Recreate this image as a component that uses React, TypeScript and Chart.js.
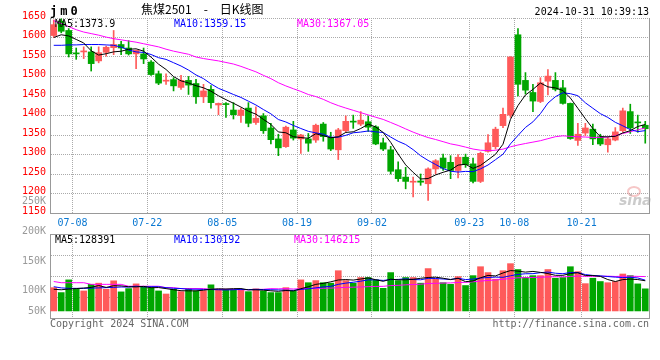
import React, { useEffect, useRef } from "react";
import { Chart, registerables } from "chart.js";
Chart.register(...registerables);

// ---------- data ----------
const dates = [
  "07-03","07-04","07-05","07-08","07-09","07-10","07-11","07-12","07-15","07-16",
  "07-17","07-18","07-19","07-22","07-23","07-24","07-25","07-26","07-29","07-30",
  "07-31","08-01","08-02","08-05","08-06","08-07","08-08","08-09","08-12","08-13",
  "08-14","08-15","08-16","08-19","08-20","08-21","08-22","08-23","08-26","08-27",
  "08-28","08-29","08-30","09-02","09-03","09-04","09-05","09-06","09-09","09-10",
  "09-11","09-12","09-13","09-18","09-19","09-20","09-23","09-24","09-25","09-26",
  "09-27","09-30","10-08","10-09","10-10","10-11","10-14","10-15","10-16","10-17",
  "10-18","10-21","10-22","10-23","10-24","10-25","10-28","10-29","10-30","10-31",
];
const xTickLabels = ["07-08", "07-22", "08-05", "08-19", "09-02", "09-23", "10-08", "10-21"];

const openP = [
  1605,1642,1618,1560,1563,1563,1540,1562,1574,1582,
  1573,1558,1558,1537,1507,1488,1492,1472,1490,1482,
  1448,1467,1427,1430,1414,1400,1419,1382,1399,1368,
  1340,1320,1363,1340,1340,1337,1378,1344,1312,1361,
  1385,1378,1384,1371,1330,1312,1261,1242,1229,1232,
  1225,1263,1291,1280,1259,1293,1276,1231,1308,1320,
  1374,1401,1607,1490,1459,1436,1488,1490,1471,1431,
  1336,1355,1365,1346,1325,1337,1361,1410,1383,1375,
];
const highP = [
  1645,1648,1623,1573,1576,1576,1576,1578,1618,1590,
  1592,1568,1573,1541,1514,1507,1497,1503,1500,1493,
  1480,1477,1432,1433,1433,1419,1433,1422,1405,1380,
  1352,1373,1385,1352,1354,1378,1382,1357,1367,1399,
  1401,1410,1399,1374,1342,1321,1281,1267,1242,1250,
  1266,1287,1301,1297,1300,1301,1291,1306,1351,1370,
  1419,1551,1623,1510,1480,1497,1518,1510,1490,1432,
  1380,1380,1378,1352,1344,1369,1419,1429,1401,1385,
];
const lowP = [
  1600,1612,1550,1544,1546,1514,1535,1552,1556,1556,
  1555,1520,1533,1503,1479,1480,1463,1467,1454,1431,
  1433,1419,1402,1395,1391,1382,1371,1377,1354,1327,
  1297,1318,1337,1303,1308,1331,1334,1310,1287,1357,
  1367,1374,1359,1325,1310,1250,1231,1212,1191,1221,
  1182,1250,1259,1238,1240,1267,1227,1228,1306,1314,
  1369,1395,1450,1455,1410,1433,1453,1463,1429,1339,
  1323,1348,1325,1323,1306,1335,1357,1354,1357,1329,
];
const closeP = [
  1633,1616,1558,1558,1565,1533,1561,1575,1582,1573,
  1558,1567,1545,1505,1483,1490,1476,1490,1478,1448,
  1463,1433,1431,1428,1402,1414,1380,1393,1361,1338,
  1317,1370,1342,1350,1329,1375,1346,1314,1363,1385,
  1383,1388,1370,1327,1314,1257,1238,1231,1231,1229,
  1263,1284,1265,1259,1293,1274,1231,1303,1330,1365,
  1403,1550,1480,1465,1437,1484,1501,1467,1431,1341,
  1352,1368,1340,1327,1340,1358,1412,1368,1381,1366,
];
const volume = [
  99000,78000,132000,92000,85000,113000,118000,92000,128000,81000,
  95000,115000,103000,99000,85000,72000,92000,82000,96000,85000,
  86000,111000,92000,92000,92000,89000,82000,94000,85000,78000,
  78000,99000,85000,132000,120000,129000,120000,118000,171000,129000,
  118000,142000,142000,132000,96000,163000,129000,142000,142000,118000,
  180000,135000,120000,113000,146000,108000,150000,188000,163000,135000,
  171000,201000,176000,142000,150000,150000,176000,139000,142000,188000,
  167000,116000,139000,125000,120000,125000,157000,150000,115000,94000,
];

// moving-average values at the left edge (their windows start before the chart)
const ma5Lead = [1600, 1607, 1604, 1595];
const ma10Lead = [1580, 1580, 1581, 1581, 1582, 1582, 1582, 1581, 1580];
const ma30Lead = [
  1643,1636,1628,1620,1614,1610,1606,1601,1597,1594,
  1591,1588,1584,1580,1576,1570,1565,1561,1557,1550,
  1546,1543,1540,1536,1532,1526,1519,1512,1503,
];
const volMa5Lead = [92000, 90000, 93000, 95000];
const volMa10Lead = [103000, 98000, 96000, 96000, 96000, 97000, 98000, 99000, 100000];
const volMa30Lead = [
  125000,120000,120000,120000,120000,113000,113000,113000,113000,113000,
  105000,105000,105000,105000,105000,99000,99000,95000,95000,95000,
  95000,92000,92000,92000,92000,90000,90000,91000,92000,
];

const volTickLabels = ["250K", "200K", "150K", "100K", "50K"];

// ---------- styles ----------
const RED = "#ff5a5a";
const GREEN = "#00a600";
const GRID = "#aaaaaa";
const FRAME = "#999999";
const MONO = '"DejaVu Sans Mono", monospace';

function movingAverage(values: number[], n: number, lead: number[]): number[] {
  return values.map((_, i) => {
    if (i < n - 1) return lead[i];
    let s = 0;
    for (let k = i - n + 1; k <= i; k++) s += values[k];
    return s / n;
  });
}

const labelIdx = new Set(xTickLabels.map((d) => dates.indexOf(d)));
const candleColors = closeP.map((c, i) => (c >= openP[i] ? RED : GREEN));

function xScale(showLabels: boolean, height: number) {
  return {
    type: "category" as const,
    offset: true,
    grid: {
      offset: true,
      drawTicks: false,
      lineWidth: 1,
      color: (ctx: any) =>
        ctx.type === "tick" ? (labelIdx.has(ctx.index) ? GRID : "rgba(0,0,0,0)") : FRAME,
    },
    border: {
      color: FRAME,
      dash: (ctx: any) => (ctx.type === "tick" ? [1, 1] : []),
    },
    ticks: {
      display: showLabels,
      autoSkip: false,
      maxRotation: 0,
      padding: 4,
      labelOffset: -3.75,
      color: "#0a78d2",
      font: { family: MONO, size: 10 },
      callback: (_v: any, i: number) => (labelIdx.has(i) ? dates[i] : ""),
    },
    afterFit: (s: any) => {
      s.height = height;
    },
  };
}

const lineDs = (label: string, data: number[], color: string, order: number) => ({
  type: "line" as const,
  label,
  data,
  borderColor: color,
  borderWidth: 1,
  pointRadius: 0,
  tension: 0,
  fill: false,
  order,
});

export default function App() {
  const mainRef = useRef<HTMLCanvasElement>(null);
  const volRef = useRef<HTMLCanvasElement>(null);

  useEffect(() => {
    const ma5 = movingAverage(closeP, 5, ma5Lead);
    const ma10 = movingAverage(closeP, 10, ma10Lead);
    const ma30 = movingAverage(closeP, 30, ma30Lead);
    const vma5 = movingAverage(volume, 5, volMa5Lead);
    const vma10 = movingAverage(volume, 10, volMa10Lead);
    const vma30 = movingAverage(volume, 30, volMa30Lead);

    const main = new Chart(mainRef.current!, {
      type: "bar",
      data: {
        labels: dates,
        datasets: [
          lineDs("MA5", ma5, "#000000", 1),
          lineDs("MA10", ma10, "#0000ff", 2),
          lineDs("MA30", ma30, "#ff00ff", 3),
          {
            type: "bar",
            label: "body",
            data: openP.map((o, i) => [o, closeP[i]]),
            backgroundColor: candleColors,
            barThickness: 6,
            minBarLength: 1,
            grouped: false,
            order: 4,
          } as any,
          {
            type: "bar",
            label: "wick",
            data: lowP.map((l, i) => [l, highP[i]]),
            backgroundColor: candleColors,
            barThickness: 1,
            grouped: false,
            order: 5,
          } as any,
        ],
      },
      options: {
        responsive: false,
        devicePixelRatio: 1,
        animation: false,
        events: [],
        layout: { padding: { top: 18, right: 11, left: 0, bottom: 0 } },
        plugins: { legend: { display: false }, tooltip: { enabled: false } },
        scales: {
          x: xScale(true, 19) as any,
          y: {
            min: 1150,
            max: 1650,
            grid: { color: GRID, drawTicks: false, lineWidth: 1 },
            border: { color: FRAME, dash: [1, 1] },
            ticks: {
              stepSize: 50,
              padding: 4,
              labelOffset: -2,
              color: "#ff0000",
              font: { family: MONO, size: 10 },
              callback: (v: any) => String(v),
            },
            afterFit: (s: any) => {
              s.width = 50;
            },
          },
        },
      },
    });

    const volMin = -30000;
    const volMax = 327000;
    const vol = new Chart(volRef.current!, {
      type: "bar",
      data: {
        labels: dates,
        datasets: [
          lineDs("MA5", vma5, "#000000", 1),
          lineDs("MA10", vma10, "#0000ff", 2),
          lineDs("MA30", vma30, "#ff00ff", 3),
          {
            type: "bar",
            label: "volume",
            data: volume,
            backgroundColor: candleColors,
            barThickness: 6,
            order: 4,
          } as any,
        ],
      },
      options: {
        responsive: false,
        devicePixelRatio: 1,
        animation: false,
        events: [],
        layout: { padding: { top: 2, right: 11, left: 0, bottom: 0 } },
        plugins: { legend: { display: false }, tooltip: { enabled: false } },
        scales: {
          x: xScale(false, 42) as any,
          y: {
            min: volMin,
            max: volMax,
            afterBuildTicks: (s: any) => {
              s.ticks = [0, 1, 2, 3, 4].map((k) => ({ value: volMin + ((volMax - volMin) * k) / 4 }));
            },
            grid: {
              drawTicks: false,
              lineWidth: 1,
              color: (ctx: any) => (ctx.index === 4 ? FRAME : GRID),
            },
            border: { color: FRAME, dash: (ctx: any) => (ctx.index === 4 ? [] : [1, 1]) },
            ticks: { display: false },
            afterFit: (s: any) => {
              s.width = 50;
            },
          },
        },
      },
    });

    return () => {
      main.destroy();
      vol.destroy();
    };
  }, []);

  const t = (extra: React.CSSProperties): React.CSSProperties => ({
    position: "absolute",
    fontFamily: MONO,
    fontSize: 10,
    lineHeight: "10px",
    whiteSpace: "pre",
    ...extra,
  });
  const volLabelTops = [196, 226, 256, 285, 305.5];

  return (
    <div
      style={{
        position: "fixed",
        left: 0,
        top: 0,
        width: 660,
        height: 360,
        background: "#fff",
        overflow: "hidden",
      }}
    >
      <canvas ref={mainRef} width={660} height={232} style={{ position: "absolute", left: 0, top: 0 }} />
      <canvas ref={volRef} width={660} height={128} style={{ position: "absolute", left: 0, top: 232 }} />

      <div style={t({ left: 50, top: 5, fontSize: 12, lineHeight: "12px", fontWeight: "bold", letterSpacing: "3px", color: "#000" })}>jm0</div>
      <div style={t({ left: 141, top: 3, fontSize: 12, lineHeight: "12px", fontFamily: '"Noto Sans CJK SC", sans-serif', color: "#000" })}>
        {"焦煤2501\u2002\u2002-\u2002\u2002日K线图"}
      </div>
      <div style={t({ right: 11, top: 7, color: "#000" })}>2024-10-31 10:39:13</div>

      <div style={t({ left: 55, top: 19, color: "#000000" })}>MA5:1373.9</div>
      <div style={t({ left: 174, top: 19, color: "#0000ff" })}>MA10:1359.15</div>
      <div style={t({ left: 297, top: 19, color: "#ff00ff" })}>MA30:1367.05</div>

      <div style={t({ left: 55, top: 235, color: "#000000" })}>MA5:128391</div>
      <div style={t({ left: 174, top: 235, color: "#0000ff" })}>MA10:130192</div>
      <div style={t({ left: 294, top: 235, color: "#ff00ff" })}>MA30:146215</div>

      {volTickLabels.map((s, i) => (
        <div key={s} style={t({ right: 614, top: volLabelTops[i], color: "#999999", textAlign: "right" })}>
          {s}
        </div>
      ))}

      <div style={t({ left: 50, top: 319, color: "#666666" })}>Copyright 2024 SINA.COM</div>
      <div style={t({ right: 11, top: 319, color: "#666666" })}>http://finance.sina.com.cn</div>

      <div
        style={{
          position: "absolute",
          left: 627,
          top: 186,
          width: 10,
          height: 7,
          borderRadius: "50%",
          border: "2px solid rgba(235,130,130,0.45)",
        }}
      />
      <div
        style={{
          position: "absolute",
          left: 619,
          top: 193,
          fontFamily: '"DejaVu Sans", sans-serif',
          fontStyle: "italic",
          fontWeight: "bold",
          fontSize: 14,
          lineHeight: "14px",
          color: "rgba(160,160,160,0.55)",
        }}
      >
        sina
      </div>
    </div>
  );
}
